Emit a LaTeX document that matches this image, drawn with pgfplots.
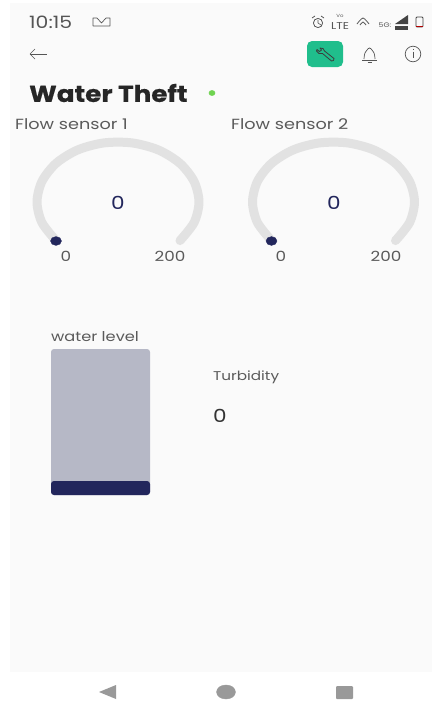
\documentclass[border=0pt]{standalone}
\usepackage{fontspec}
\setmainfont{Poppins}[FakeStretch=1.2]
\newfontfamily\titlefont{Poppins}[FakeStretch=1.14,FakeBold=0.6,BoldFont={* Bold}]
\usepackage{pgfplots}
\pgfplotsset{compat=1.18}
\definecolor{panel}{HTML}{FAFAFA}
\definecolor{track}{HTML}{E2E2E2}
\definecolor{navy}{HTML}{22265C}
\definecolor{tank}{HTML}{B6B8C6}
\definecolor{btn}{HTML}{20BE8C}
\definecolor{statusg}{HTML}{6FD350}
\definecolor{txt}{HTML}{5A5A5A}
\definecolor{navg}{HTML}{999999}
\definecolor{icon}{HTML}{555555}
\newcommand{\fs}[1]{\fontsize{#1}{#1}\selectfont}
\begin{document}
\begin{tikzpicture}
\begin{axis}[
  width=432pt, height=702pt, scale only axis,
  xmin=0, xmax=432, ymin=0, ymax=702, y dir=reverse,
  hide axis, clip=false,
  every axis plot/.append style={line join=round},
]
% page and panel
\addplot[fill=white, draw=none] coordinates {(0,0) (432,0) (432,702) (0,702)} --cycle;
\addplot[fill=panel, draw=none] coordinates {(10,3) (432,3) (432,672) (10,672)} --cycle;

% gauge 1
\addplot[track, line width=9pt, line cap=round, smooth] coordinates {
  (56.0,240.6) (41.9,222.5) (37,202) (41.9,181.5) (56.0,163.4) (77.5,150.0) (103.9,142.9)
  (132.1,142.9) (158.5,150.0) (180.0,163.4) (194.1,181.5) (199,202) (194.1,222.5) (180.0,240.6)};
\addplot[only marks, color=navy, mark=*, mark size=4.4pt, mark options={xscale=1.25, solid}] coordinates {(56,241)};
% gauge 2
\addplot[track, line width=9pt, line cap=round, smooth] coordinates {
  (271.5,240.6) (257.4,222.5) (252.5,202) (257.4,181.5) (271.5,163.4) (293.0,150.0) (319.4,142.9)
  (347.6,142.9) (374.0,150.0) (395.5,163.4) (409.6,181.5) (414.5,202) (409.6,222.5) (395.5,240.6)};
\addplot[only marks, color=navy, mark=*, mark size=4.4pt, mark options={xscale=1.25, solid}] coordinates {(271.5,241)};

% water level
\addplot[fill=tank, draw=none, rounded corners=3pt] coordinates {(51,349) (150,349) (150,495) (51,495)} --cycle;
\addplot[fill=navy, draw=none, rounded corners=3pt] coordinates {(51,481) (150,481) (150,495) (51,495)} --cycle;

% app bar
\addplot[fill=btn, draw=none, rounded corners=5pt] coordinates {(307,41) (343,41) (343,67) (307,67)} --cycle;
\addplot[draw=icon!70!black, fill=none, line width=0.8pt] coordinates {
  (320,48) (323,48.5) (324.5,51) (334,58.5) (333.5,60.5) (331.5,61) (322.5,53.5) (319,53.5)
  (316.5,51) (317,49.5) (319.5,51.5) (321.5,50)} --cycle;
\addplot[icon, line width=0.7pt] coordinates {(30,54) (47,54)};
\addplot[icon, line width=0.7pt] coordinates {(35,49) (30,54) (35,59)};
% bell
\addplot[icon, line width=0.7pt, smooth] coordinates {(364,59) (365,53) (369.5,48) (374,53) (375,59)};
\addplot[icon, line width=0.7pt] coordinates {(362,60) (377,60)};
\addplot[icon, line width=0.7pt] coordinates {(367.5,62.5) (371.5,62.5)};
% info
\addplot[only marks, color=icon, mark=o, mark size=7.8pt, mark options={line width=0.7pt}] coordinates {(413,54)};
\addplot[icon, line width=0.8pt] coordinates {(413,51.5) (413,58)};
\addplot[icon, line width=0.8pt] coordinates {(413,48.5) (413,49.8)};

% status bar icons
\addplot[icon, line width=0.7pt] coordinates {(93,26) (93,18) (97,18) (101.5,23) (106,18) (110,18) (110,26) (93,26)};
\addplot[only marks, color=icon, mark=o, mark size=4.6pt, mark options={line width=0.8pt}] coordinates {(318,23)};
\addplot[icon, line width=0.6pt] coordinates {(318,20) (318,23) (321,25)};
\addplot[icon, line width=0.8pt] coordinates {(312,18) (315,16)};
\addplot[icon, line width=0.8pt] coordinates {(321,16) (324,18)};
\addplot[icon, line width=0.8pt, smooth] coordinates {(357,24) (363,18) (369,24)};
\addplot[icon, line width=0.8pt, smooth] coordinates {(360,25) (363,22) (366,25)};
\addplot[fill=icon!80!black, draw=none] coordinates {(395,24) (408,15) (408,24)} --cycle;
\addplot[fill=icon!80!black, draw=none] coordinates {(395,26) (408,26) (408,30) (395,30)} --cycle;
\addplot[draw=icon!80!black, line width=0.8pt, fill=none, rounded corners=1pt] coordinates {(416,17) (423,17) (423,27) (416,27)} --cycle;
\addplot[fill=red!70!black, draw=none] coordinates {(416,25.5) (423,25.5) (423,27) (416,27)} --cycle;

% status dot
\addplot[only marks, color=statusg, mark=*, mark size=2.6pt, mark options={xscale=1.2, solid}] coordinates {(212,93)};

% nav bar
\addplot[fill=navg, draw=none] coordinates {(99,692) (116,685) (116,699)} --cycle;
\addplot[only marks, color=navg, mark=*, mark size=7pt, mark options={xscale=1.35, solid}] coordinates {(226,692)};
\addplot[fill=navg, draw=none, rounded corners=1pt] coordinates {(336,686) (353,686) (353,699) (336,699)} --cycle;

% text
\node[anchor=west, text=icon, inner sep=0pt] at (axis cs:29,22) {\fs{17}10:15};
\node[anchor=center, text=icon, inner sep=0pt, align=center] at (axis cs:340,22) {\fs{4.5}Vo\\[-0.5pt]LTE};
\node[anchor=center, text=icon, inner sep=0pt] at (axis cs:385,25.5) {\fs{6.5}5G:};
\node[anchor=west, text=black!85, inner sep=0pt] at (axis cs:29,93) {\titlefont\fs{23}\bfseries Water Theft};
\node[anchor=west, text=txt, inner sep=0pt] at (axis cs:15,124) {\fs{14.7}Flow sensor 1};
\node[anchor=west, text=txt, inner sep=0pt] at (axis cs:231,124) {\fs{14.7}Flow sensor 2};
\node[text=navy, inner sep=0pt] at (axis cs:118,203) {\fs{18}0};
\node[text=navy, inner sep=0pt] at (axis cs:334,203) {\fs{18}0};
\node[text=txt, inner sep=0pt] at (axis cs:66,256) {\fs{14}0};
\node[text=txt, inner sep=0pt] at (axis cs:170,256) {\fs{14}200};
\node[text=txt, inner sep=0pt] at (axis cs:281,256) {\fs{14}0};
\node[text=txt, inner sep=0pt] at (axis cs:386,256) {\fs{14}200};
\node[anchor=west, text=txt, inner sep=0pt] at (axis cs:51,337) {\fs{13.5}water level};
\node[anchor=west, text=txt, inner sep=0pt] at (axis cs:213,377) {\fs{12.7}Turbidity};
\node[anchor=west, text=black!80, inner sep=0pt] at (axis cs:213,416) {\fs{18}0};
\end{axis}
\end{tikzpicture}
\end{document}
